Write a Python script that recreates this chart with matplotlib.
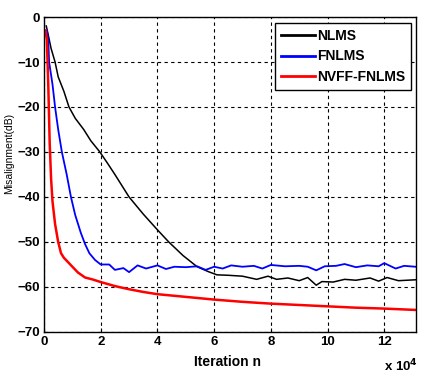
import matplotlib
matplotlib.use("Agg")
import matplotlib.pyplot as plt
from matplotlib.ticker import FuncFormatter

plt.rcParams['font.family'] = ['Liberation Sans', 'DejaVu Sans']
plt.rcParams['font.weight'] = 'bold'

# iteration (x 1e4) and misalignment (dB)
nlms_x = [0.08, 0.15, 0.25, 0.39, 0.5, 0.7, 0.88, 1.1, 1.4, 1.65, 1.97, 2.25, 2.5, 2.75, 3.0, 3.5,
          4.0, 4.4, 4.9, 5.4, 5.8, 6.1, 6.5, 7.0, 7.5, 7.9, 8.2, 8.6, 9.0, 9.3, 9.6, 9.8,
          10.2, 10.6, 11.0, 11.5, 11.8, 12.1, 12.5, 13.1]
nlms_y = [-2, -4, -7, -10, -13.3, -16.5, -20, -22.5, -25, -27.5, -30, -32.6, -35, -37.5, -40, -43.8,
          -47.3, -50, -53, -55.5, -56.6, -57.3, -57.4, -57.6, -58.3, -57.6, -58.3, -58.0, -58.6, -57.9, -59.6, -58.8,
          -58.9, -58.3, -58.5, -58.0, -58.7, -57.9, -58.6, -58.4]

fnlms_x = [0.1, 0.15, 0.18, 0.3, 0.39, 0.5, 0.63, 0.8, 0.95, 1.1, 1.3, 1.45, 1.6, 1.8, 2.0, 2.3,
           2.5, 2.8, 3.0, 3.3, 3.6, 4.0, 4.3, 4.6, 5.0, 5.4, 5.7, 6.0, 6.3, 6.6, 7.0, 7.4,
           7.7, 8.0, 8.5, 9.0, 9.3, 9.6, 9.9, 10.3, 10.6, 11.0, 11.4, 11.8, 12.0, 12.4, 12.7, 13.1]
fnlms_y = [-3, -5, -10, -15, -20, -25, -30, -35, -40, -44, -48, -50.5, -52.5, -54, -55, -55,
           -56.2, -55.8, -56.7, -55.2, -55.9, -55.2, -56, -55.5, -55.6, -55.4, -56.2, -55.5, -55.9, -55.2, -55.5, -55.3,
           -55.9, -55.1, -55.4, -55.3, -55.5, -56.3, -55.4, -55.3, -54.9, -55.6, -55.2, -55.4, -54.7, -55.9, -55.3, -55.5]

nvff_x = [0.05, 0.1, 0.15, 0.2, 0.25, 0.3, 0.39, 0.5, 0.6, 0.7, 0.85, 1.0, 1.2, 1.45, 1.7, 2.0,
          2.5, 3.0, 3.5, 4.0, 5.0, 6.0, 7.0, 8.0, 9.0, 10.0, 11.0, 12.0, 13.1]
nvff_y = [-3, -5, -15, -28, -36, -41, -46, -50, -52.5, -53.5, -54.5, -55.5, -56.8, -57.9, -58.3, -58.9,
          -59.8, -60.5, -61.1, -61.6, -62.2, -62.8, -63.3, -63.7, -64.0, -64.3, -64.6, -64.8, -65.1]

xticks = [0, 2, 4, 6, 8, 10, 12]
yticks = [0, -10, -20, -30, -40, -50, -60, -70]

fig = plt.figure(figsize=(4.24, 3.83), dpi=100)
ax = fig.add_axes([0.1038, 0.1332, 0.8774, 0.8224])

scale = 1e4
ax.plot([v * scale for v in nlms_x], nlms_y, color='black', lw=1.1, label='NLMS')
ax.plot([v * scale for v in fnlms_x], fnlms_y, color='blue', lw=1.3, label='FNLMS')
ax.plot([v * scale for v in nvff_x], nvff_y, color='red', lw=1.8, label='NVFF-FNLMS')

ax.set_xlim(0, 13.12 * scale)
ax.set_ylim(-70, 0)
ax.set_xticks([v * scale for v in xticks])
ax.set_yticks(yticks)
ax.xaxis.set_major_formatter(FuncFormatter(lambda v, p: f"{v / scale:g}"))
ax.tick_params(direction='in', length=3, labelsize=9.5, width=0.8, colors='black', pad=3)
for lbl in ax.get_xticklabels() + ax.get_yticklabels():
    lbl.set_fontweight('bold')
ax.grid(True, color='black', linestyle=(0, (3, 3)), linewidth=0.8)
for s in ax.spines.values():
    s.set_linewidth(1.0)

leg = ax.legend(loc='upper right', bbox_to_anchor=(0.987, 0.981), fancybox=False,
                edgecolor='black', framealpha=1, prop={'weight': 'bold', 'size': 10},
                handlelength=2.4, borderpad=0.45, labelspacing=0.45, handletextpad=0.15,
                borderaxespad=0)
leg.get_frame().set_linewidth(1.0)
for h in leg.get_lines():
    h.set_linewidth(2.0)

fig.text(0.537, 0.056, 'Iteration n', ha='center', va='center', fontsize=10, fontweight='bold')
fig.text(0.021, 0.6, 'Misalignment(dB)', rotation=90, ha='center', va='center',
         fontsize=7.5, fontweight='normal')
fig.text(0.905, 0.022, r'x 10$^{\mathbf{4}}$', ha='left', va='bottom', fontsize=9.5, fontweight='bold')

fig.savefig('out.png', dpi=100)
